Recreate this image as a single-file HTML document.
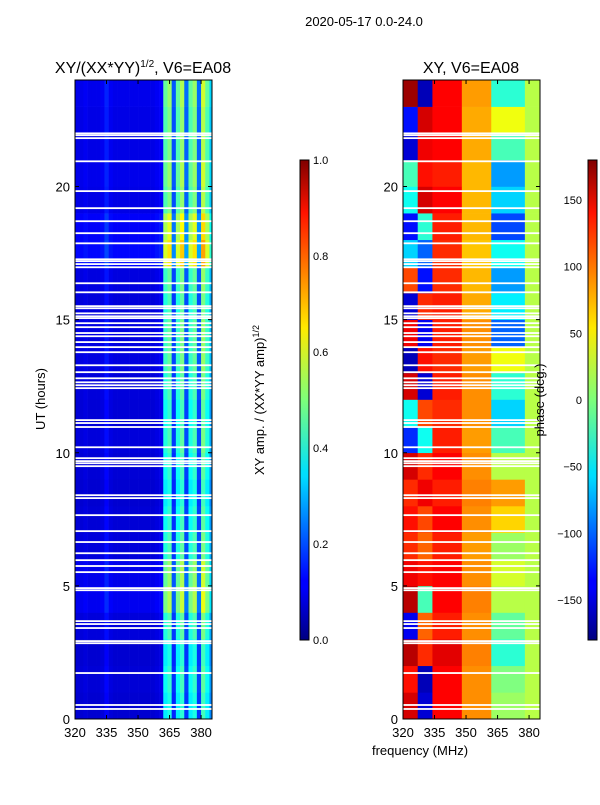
<!DOCTYPE html>
<html><head><meta charset="utf-8"><style>
body{margin:0;background:#fff;font-family:"Liberation Sans",sans-serif;}
svg text{font-family:"Liberation Sans",sans-serif;}
</style></head><body>
<svg id="fig" width="600" height="800" xmlns="http://www.w3.org/2000/svg">
<defs>
<linearGradient id="jet" x1="0" y1="1" x2="0" y2="0">
<stop offset="0" stop-color="#000080"/><stop offset="0.11" stop-color="#0000ff"/><stop offset="0.125" stop-color="#0000ff"/>
<stop offset="0.34" stop-color="#00dcff"/><stop offset="0.35" stop-color="#00e0fb"/><stop offset="0.5" stop-color="#7dff7a"/>
<stop offset="0.65" stop-color="#ffea00"/><stop offset="0.89" stop-color="#ff1300"/><stop offset="1" stop-color="#800000"/>
</linearGradient>
</defs>
<text x="364" y="26" font-size="13" text-anchor="middle">2020-05-17 0.0-24.0</text>
<text x="143" y="73" font-size="16" text-anchor="middle">XY/(XX*YY)<tspan font-size="10" dy="-6">1/2</tspan><tspan dy="6">, V6=EA08</tspan></text>
<text x="471" y="73" font-size="16" text-anchor="middle">XY, V6=EA08</text>
<g id="left"></g>
<g id="right"></g>
<g id="axes"></g>
<rect x="300" y="160" width="9" height="480" fill="url(#jet)" stroke="#000" stroke-width="1"/>
<rect x="588" y="160" width="9" height="480" fill="url(#jet)" stroke="#000" stroke-width="1"/>
<text transform="translate(264,400) rotate(-90)" font-size="13" text-anchor="middle">XY amp. / (XX*YY amp)<tspan font-size="9" dy="-5">1/2</tspan></text>
<text transform="translate(544,400) rotate(-90)" font-size="13" text-anchor="middle">phase (deg.)</text>
<text transform="translate(45,399) rotate(-90)" font-size="13" text-anchor="middle">UT (hours)</text>
<text x="420" y="755" font-size="13" text-anchor="middle">frequency (MHz)</text>
</svg>
<script>
const freqCols=[320,322,324,326,328,330,332,334,336,338,340,342,344,346,348,350,352,354,356,358,360,362,364,366,368,370,372,374,376,378,380,382,384];
const ampFreq=[0.1,0.1,0.11,0.1,0.1,0.1,0.11,0.15,0.11,0.1,0.1,0.1,0.1,0.1,0.1,0.1,0.1,0.1,0.1,0.11,0.12,0.45,0.5,0.2,0.45,0.52,0.22,0.45,0.5,0.22,0.55,0.45,0.32];
const ampHour=[0.8,0.85,0.8,0.9,1.1,1.05,0.9,0.85,0.8,0.85,0.9,0.85,0.9,0.95,0.95,0.9,0.95,1.3,1.2,1.0,1.05,1.0,1.0,1.05];
const segEdges=[320,327,334,348,362,378,386];
const phaseHour=[
[150,-150,135,85,10,20],[130,-160,135,85,0,20],[160,120,145,90,-30,20],[-140,100,125,85,-10,20],
[160,-20,135,90,20,20],[140,130,135,85,30,20],[120,100,125,80,10,20],[130,110,135,85,60,20],
[120,140,125,90,80,20],[150,120,135,85,20,20],[-120,-40,125,80,-20,20],[-40,110,120,85,-60,20],
[150,-150,125,85,-30,20],[-160,130,120,80,40,20],[140,-140,125,85,-100,20],[-150,120,125,75,-50,20],
[110,-130,120,70,-80,20],[-60,-100,120,65,-40,20],[-130,-30,125,70,-110,20],[-40,150,135,70,-60,20],
[-20,130,125,70,-80,20],[-150,140,135,75,-20,20],[-130,150,135,75,40,20],[170,-160,135,80,-30,20]];
const flagHours=[22.0,21.93,21.82,20.95,19.83,19.19,18.70,18.25,17.87,17.27,17.20,17.09,16.97,16.37,16.03,15.51,15.43,15.24,15.13,15.06,14.87,14.72,14.50,14.38,14.16,13.97,13.78,13.29,13.03,12.80,12.65,12.54,12.43,11.23,11.12,10.97,10.21,9.80,9.69,9.61,9.50,8.41,8.30,7.66,7.06,6.65,6.23,5.97,5.75,5.52,4.92,4.84,3.68,3.57,3.42,2.93,2.85,1.73,0.53,0.38];
const xTicks=[320,335,350,365,380];
const yTicks=[0,5,10,15,20];
const ampTicks=[0.0,0.2,0.4,0.6,0.8,1.0];
const phaseTicks=[-150,-100,-50,0,50,100,150];

const NS="http://www.w3.org/2000/svg";
const Y0=80,Y1=719,FMIN=320,FMAX=385.2;
function yScale(h){return Y1-(h/24)*(Y1-Y0);}
function xScale(f,x0){return x0+(f-FMIN)/(FMAX-FMIN)*137;}
function jet(v){v=Math.max(0,Math.min(1,v));
 const r=Math.max(0,Math.min(1,1.5-Math.abs(4*v-3))),g=Math.max(0,Math.min(1,1.5-Math.abs(4*v-2))),b=Math.max(0,Math.min(1,1.5-Math.abs(4*v-1)));
 return `rgb(${Math.round(r*255)},${Math.round(g*255)},${Math.round(b*255)})`;}
function mk(tag,attrs,parent){const e=document.createElementNS(NS,tag);for(const k in attrs)e.setAttribute(k,attrs[k]);parent.appendChild(e);return e;}
const L=document.getElementById('left'),R=document.getElementById('right'),A=document.getElementById('axes');
for(let h=0;h<24;h++){
 for(let i=0;i<freqCols.length;i++){
  const f0=freqCols[i],f1=Math.min(f0+2,FMAX);
  const x=xScale(f0,75),w=xScale(f1,75)-x;
  const c=mk('rect',{x:x,y:yScale(h+1),width:w+0.3,height:yScale(h)-yScale(h+1)+0.3,fill:jet(ampFreq[i]*ampHour[h])},L);
  
  
 }
 for(let s=0;s<6;s++){
  const x=xScale(segEdges[s],403),x2=xScale(Math.min(segEdges[s+1],FMAX),403);
  const c=mk('rect',{x:x,y:yScale(h+1),width:x2-x+0.3,height:yScale(h)-yScale(h+1)+0.3,fill:jet((phaseHour[h][s]+180)/360)},R);
  
  
 }
}
[75,403].forEach(x0=>{
 flagHours.forEach(fh=>{
  const r=mk('rect',{x:x0,y:yScale(fh)-0.8,width:137,height:1.8,fill:'#fff'},A);
  
  
 });
 const fr=mk('rect',{x:x0,y:Y0,width:137,height:Y1-Y0,fill:'none',stroke:'#000','stroke-width':1},A);
 
 
 xTicks.forEach(t=>{const x=xScale(t,x0);
  mk('line',{x1:x,x2:x,y1:Y1,y2:Y1-4,stroke:'#000'},A);mk('line',{x1:x,x2:x,y1:Y0,y2:Y0+4,stroke:'#000'},A);
  const tx=mk('text',{x:x,y:Y1+18,'font-size':13,'text-anchor':'middle'},A);tx.textContent=t;
  
  });
 yTicks.forEach(t=>{const y=yScale(t);
  mk('line',{x1:x0,x2:x0+4,y1:y,y2:y,stroke:'#000'},A);mk('line',{x1:x0+137,x2:x0+133,y1:y,y2:y,stroke:'#000'},A);
  const tx=mk('text',{x:x0-5,y:y+5,'font-size':13,'text-anchor':'end'},A);tx.textContent=t;
  
  });
});
ampTicks.forEach(t=>{const y=640-t*480;mk('line',{x1:300,x2:303,y1:y,y2:y,stroke:'#000'},A);mk('line',{x1:306,x2:309,y1:y,y2:y,stroke:'#000'},A);
 const tx=mk('text',{x:313,y:y+4,'font-size':11},A);tx.textContent=t.toFixed(1);
 
 });
phaseTicks.forEach(t=>{const y=640-(t+180)/360*480;mk('line',{x1:588,x2:591,y1:y,y2:y,stroke:'#000'},A);mk('line',{x1:594,x2:597,y1:y,y2:y,stroke:'#000'},A);
 const tx=mk('text',{x:582,y:y+4,'font-size':11,'text-anchor':'end'},A);tx.textContent=t<0?'\u2212'+(-t):t;
 
 });
</script>
</body></html>
